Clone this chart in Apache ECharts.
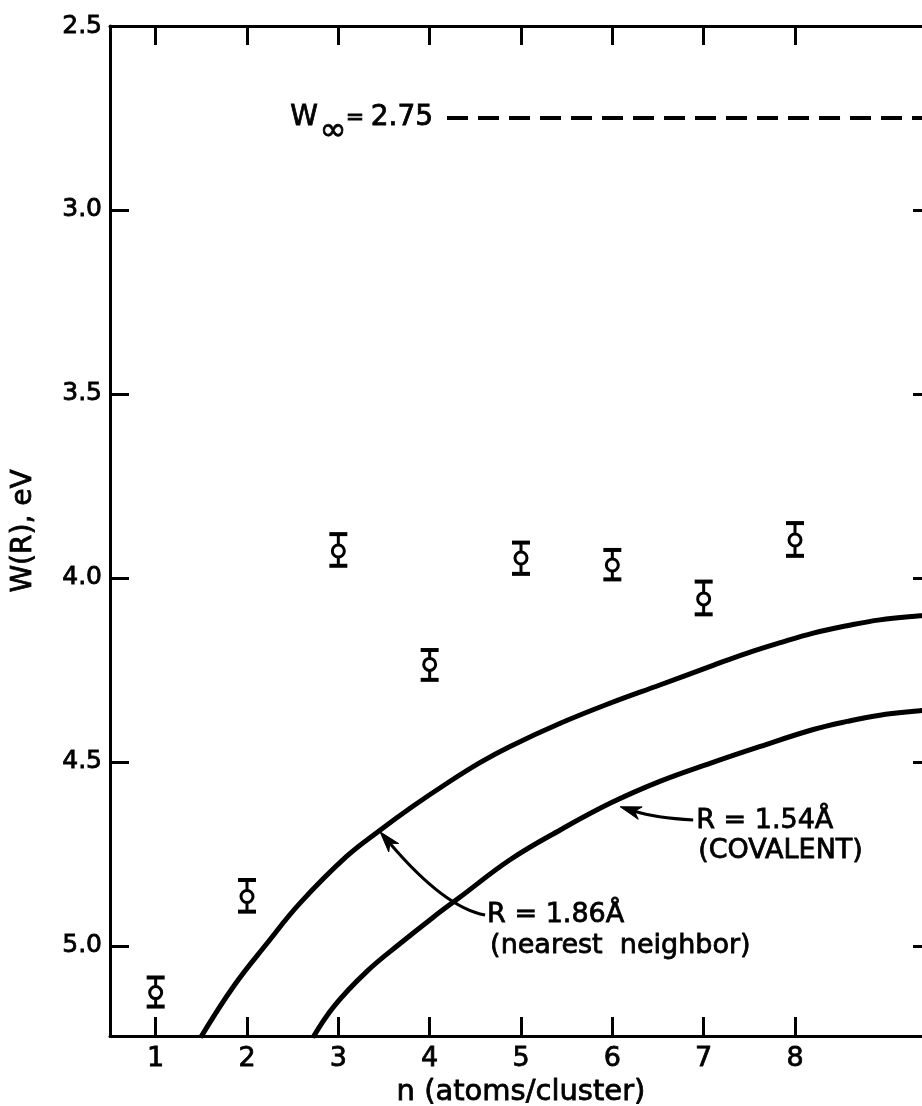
<!DOCTYPE html>
<html>
<head>
<meta charset="utf-8">
<script src="https://cdn.jsdelivr.net/npm/echarts@6/dist/echarts.min.js"></script>
<style>
  html, body { margin: 0; padding: 0; background: #fff; }
  #chart { width: 922px; height: 1106px; }
</style>
</head>
<body>
<div id="chart"></div>
<script>
// ---------- data ----------
const xTicks = [1, 2, 3, 4, 5, 6, 7, 8];
const yTickLabels = [2.5, 3.0, 3.5, 4.0, 4.5, 5.0];
const yInnerTicks = [3.0, 3.5, 4.0, 4.5, 5.0];

const clusterN   = [1, 2, 3, 4, 5, 6, 7, 8];
const workFn     = [5.127, 4.866, 3.927, 4.235, 3.946, 3.965, 4.057, 3.897];
const workLow    = [5.086, 4.821, 3.881, 4.196, 3.904, 3.924, 4.010, 3.851];
const workHigh   = [5.165, 4.907, 3.967, 4.277, 3.989, 4.004, 4.099, 3.940];

// R = 1.86 Å (nearest neighbor)
const curveA_n = [1.49, 1.85, 2.22, 2.58, 3.09, 3.46, 3.82, 4.19, 4.55, 4.88, 5.43, 5.98, 6.52, 7.11, 7.47, 7.84, 8.20, 8.57, 8.93, 9.37, 9.5];
const curveA_w = [5.250, 5.111, 4.993, 4.884, 4.757, 4.685, 4.620, 4.558, 4.502, 4.458, 4.395, 4.340, 4.291, 4.237, 4.205, 4.176, 4.150, 4.130, 4.114, 4.103, 4.101];
// R = 1.54 Å (covalent)
const curveB_n = [2.72, 2.95, 3.31, 3.68, 4.04, 4.33, 4.88, 5.43, 5.98, 6.52, 7.07, 7.62, 8.20, 8.57, 8.93, 9.37, 9.5];
const curveB_w = [5.250, 5.165, 5.070, 4.993, 4.922, 4.868, 4.766, 4.685, 4.612, 4.553, 4.504, 4.458, 4.412, 4.390, 4.373, 4.361, 4.358];

const W_INF = 2.75;
const wInfLine_n = [4.19, 9.5];

// annotation arrows: start (n, W), control (n, W), tip (n, W)
const arrowStart_n = [4.607, 6.885];
const arrowStart_w = [4.916, 4.658];
const arrowCtrl_n  = [4.169, 6.469];
const arrowCtrl_w  = [4.897, 4.652];
const arrowTip_n   = [3.457, 6.086];
const arrowTip_w   = [4.690, 4.622];

const X_MIN = 0.5, X_MAX = 9.5, Y_MIN = 2.5, Y_MAX = 5.245;
const FONT = 'DejaVu Sans';

// ---------- chart ----------
const chart = echarts.init(document.getElementById('chart'), null, { renderer: 'canvas' });

const axisLine = { show: true, lineStyle: { color: '#000', width: 3 } };
const tickStyle = { color: '#000', width: 3 };
const heavy = { textBorderColor: '#000', textBorderWidth: 0.8 };

const option = {
  animation: false,
  backgroundColor: '#fff',
  grid: { left: 110, top: 26, right: -10, bottom: 70, containLabel: false, outerBoundsMode: 'none' },
  xAxis: [
    {
      type: 'value', position: 'bottom', min: X_MIN, max: X_MAX,
      axisLine: axisLine,
      axisTick: { show: true, inside: true, length: 19, lineStyle: tickStyle, customValues: xTicks },
      axisLabel: Object.assign({ show: true, customValues: xTicks, color: '#000', fontSize: 27, fontFamily: FONT, margin: 9 }, heavy),
      splitLine: { show: false },
      name: 'n (atoms/cluster)', nameLocation: 'middle', nameGap: 38,
      nameTextStyle: Object.assign({ color: '#000', fontSize: 29, fontFamily: FONT }, heavy)
    },
    {
      type: 'value', position: 'top', min: X_MIN, max: X_MAX,
      axisLine: axisLine,
      axisTick: { show: true, inside: true, length: 19, lineStyle: tickStyle, customValues: xTicks },
      axisLabel: { show: false },
      splitLine: { show: false }
    }
  ],
  yAxis: [
    {
      type: 'value', position: 'left', inverse: true, min: Y_MIN, max: Y_MAX,
      axisLine: axisLine,
      axisTick: { show: true, inside: true, length: 19, lineStyle: tickStyle, customValues: yInnerTicks },
      axisLabel: Object.assign({ show: true, customValues: yTickLabels, color: '#000', fontSize: 25, fontFamily: FONT, margin: 8,
                   formatter: v => Number(v).toFixed(1) }, heavy),
      splitLine: { show: false },
      name: 'W(R), eV', nameLocation: 'middle', nameGap: 72, nameRotate: 90,
      nameTextStyle: Object.assign({ color: '#000', fontSize: 28, fontFamily: FONT }, heavy)
    },
    {
      type: 'value', position: 'right', inverse: true, min: Y_MIN, max: Y_MAX,
      axisLine: axisLine,
      axisTick: { show: true, inside: true, length: 19, lineStyle: tickStyle, customValues: yInnerTicks },
      axisLabel: { show: false },
      splitLine: { show: false }
    }
  ],
  series: [
    {
      name: 'R=1.86', type: 'line', xAxisIndex: 0, yAxisIndex: 0,
      data: curveA_n.map((n, i) => [n, curveA_w[i]]),
      showSymbol: false, symbol: 'none', smooth: 0.4,
      lineStyle: { color: '#000', width: 5 }, silent: true, z: 3
    },
    {
      name: 'R=1.54', type: 'line', xAxisIndex: 0, yAxisIndex: 0,
      data: curveB_n.map((n, i) => [n, curveB_w[i]]),
      showSymbol: false, symbol: 'none', smooth: 0.4,
      lineStyle: { color: '#000', width: 5 }, silent: true, z: 3
    },
    {
      name: 'Winf', type: 'line',
      data: wInfLine_n.map(n => [n, W_INF]),
      showSymbol: false, symbol: 'none',
      lineStyle: { color: '#000', width: 4, type: [21, 10] }, silent: true
    },
    {
      name: 'arrows', type: 'custom', clip: false,
      data: arrowStart_n.map((n, i) => [n, arrowStart_w[i], arrowCtrl_n[i], arrowCtrl_w[i], arrowTip_n[i], arrowTip_w[i]]),
      encode: { x: [0, 2, 4], y: [1, 3, 5] },
      renderItem: function (params, api) {
        const s = api.coord([api.value(0), api.value(1)]);
        const c = api.coord([api.value(2), api.value(3)]);
        const t = api.coord([api.value(4), api.value(5)]);
        let dx = t[0] - c[0], dy = t[1] - c[1];
        const len = Math.sqrt(dx * dx + dy * dy); dx /= len; dy /= len;
        const L = 21, W = 6.5, N = 15;
        const bx = t[0] - dx * L, by = t[1] - dy * L;
        const nx = t[0] - dx * N, ny = t[1] - dy * N;
        // shaft ends at arrowhead notch
        const endS = [nx, ny];
        return {
          type: 'group',
          children: [
            { type: 'bezierCurve',
              shape: { x1: s[0], y1: s[1], x2: endS[0], y2: endS[1], cpx1: c[0], cpy1: c[1] },
              style: { stroke: '#000', lineWidth: 3, fill: null } },
            { type: 'polygon',
              shape: { points: [[t[0], t[1]], [bx - dy * W, by + dx * W], [nx, ny], [bx + dy * W, by - dx * W]] },
              style: { fill: '#000', stroke: '#000', lineWidth: 1 } }
          ]
        };
      },
      silent: true, z: 6
    },
    {
      name: 'err', type: 'custom',
      data: clusterN.map((n, i) => [n, workLow[i], workHigh[i]]),
      encode: { x: 0, y: [1, 2] },
      renderItem: function (params, api) {
        const x = api.value(0), lo = api.value(1), hi = api.value(2);
        const p1 = api.coord([x, lo]), p2 = api.coord([x, hi]);
        const hw = 9;
        const st = { stroke: '#000', lineWidth: 3 };
        return {
          type: 'group',
          children: [
            { type: 'line', shape: { x1: p1[0], y1: p1[1], x2: p2[0], y2: p2[1] }, style: st },
            { type: 'line', shape: { x1: p1[0] - hw, y1: p1[1], x2: p1[0] + hw, y2: p1[1] }, style: { stroke: '#000', lineWidth: 4 } },
            { type: 'line', shape: { x1: p2[0] - hw, y1: p2[1], x2: p2[0] + hw, y2: p2[1] }, style: { stroke: '#000', lineWidth: 4 } }
          ]
        };
      },
      silent: true, z: 4
    },
    {
      name: 'W(R)', type: 'scatter',
      data: clusterN.map((n, i) => [n, workFn[i]]),
      symbol: 'circle', symbolSize: 12,
      itemStyle: { color: '#fff', borderColor: '#000', borderWidth: 3, opacity: 1 },
      silent: true, z: 5
    }
  ]
};
chart.setOption(option);

// ---------- text annotations anchored at data positions ----------
function px(p) { return chart.convertToPixel({ gridIndex: 0 }, p); }
const txt = (x, y, text, size, align) => ({
  type: 'text', x: x, y: y, silent: true, z: 100,
  style: { text: text, fill: '#000', stroke: '#000', lineWidth: 0.8,
           font: size + 'px "' + FONT + '"', align: align || 'left', verticalAlign: 'middle' }
});

const wInfStart = px([wInfLine_n[0], W_INF]);
const aStart = px([arrowStart_n[0], arrowStart_w[0]]);
const bStart = px([arrowStart_n[1], arrowStart_w[1]]);

chart.setOption({
  graphic: [
    txt(wInfStart[0] - 14, wInfStart[1], '2.75', 28, 'right'),
    txt(wInfStart[0] - 92, wInfStart[1], '=', 22, 'center'),
    txt(wInfStart[0] - 114, wInfStart[1] + 14, '\u221E', 32, 'center'),
    txt(wInfStart[0] - 129, wInfStart[1], 'W', 28, 'right'),
    txt(bStart[0] + 3, bStart[1] + 1, 'R = 1.54\u00C5', 27, 'left'),
    txt(bStart[0] + 5, bStart[1] + 31, '(COVALENT)', 27, 'left'),
    txt(aStart[0] + 2, aStart[1], 'R = 1.86\u00C5', 27, 'left'),
    txt(aStart[0] + 5, aStart[1] + 31, '(nearest  neighbor)', 27, 'left')
  ]
});
</script>
</body>
</html>
